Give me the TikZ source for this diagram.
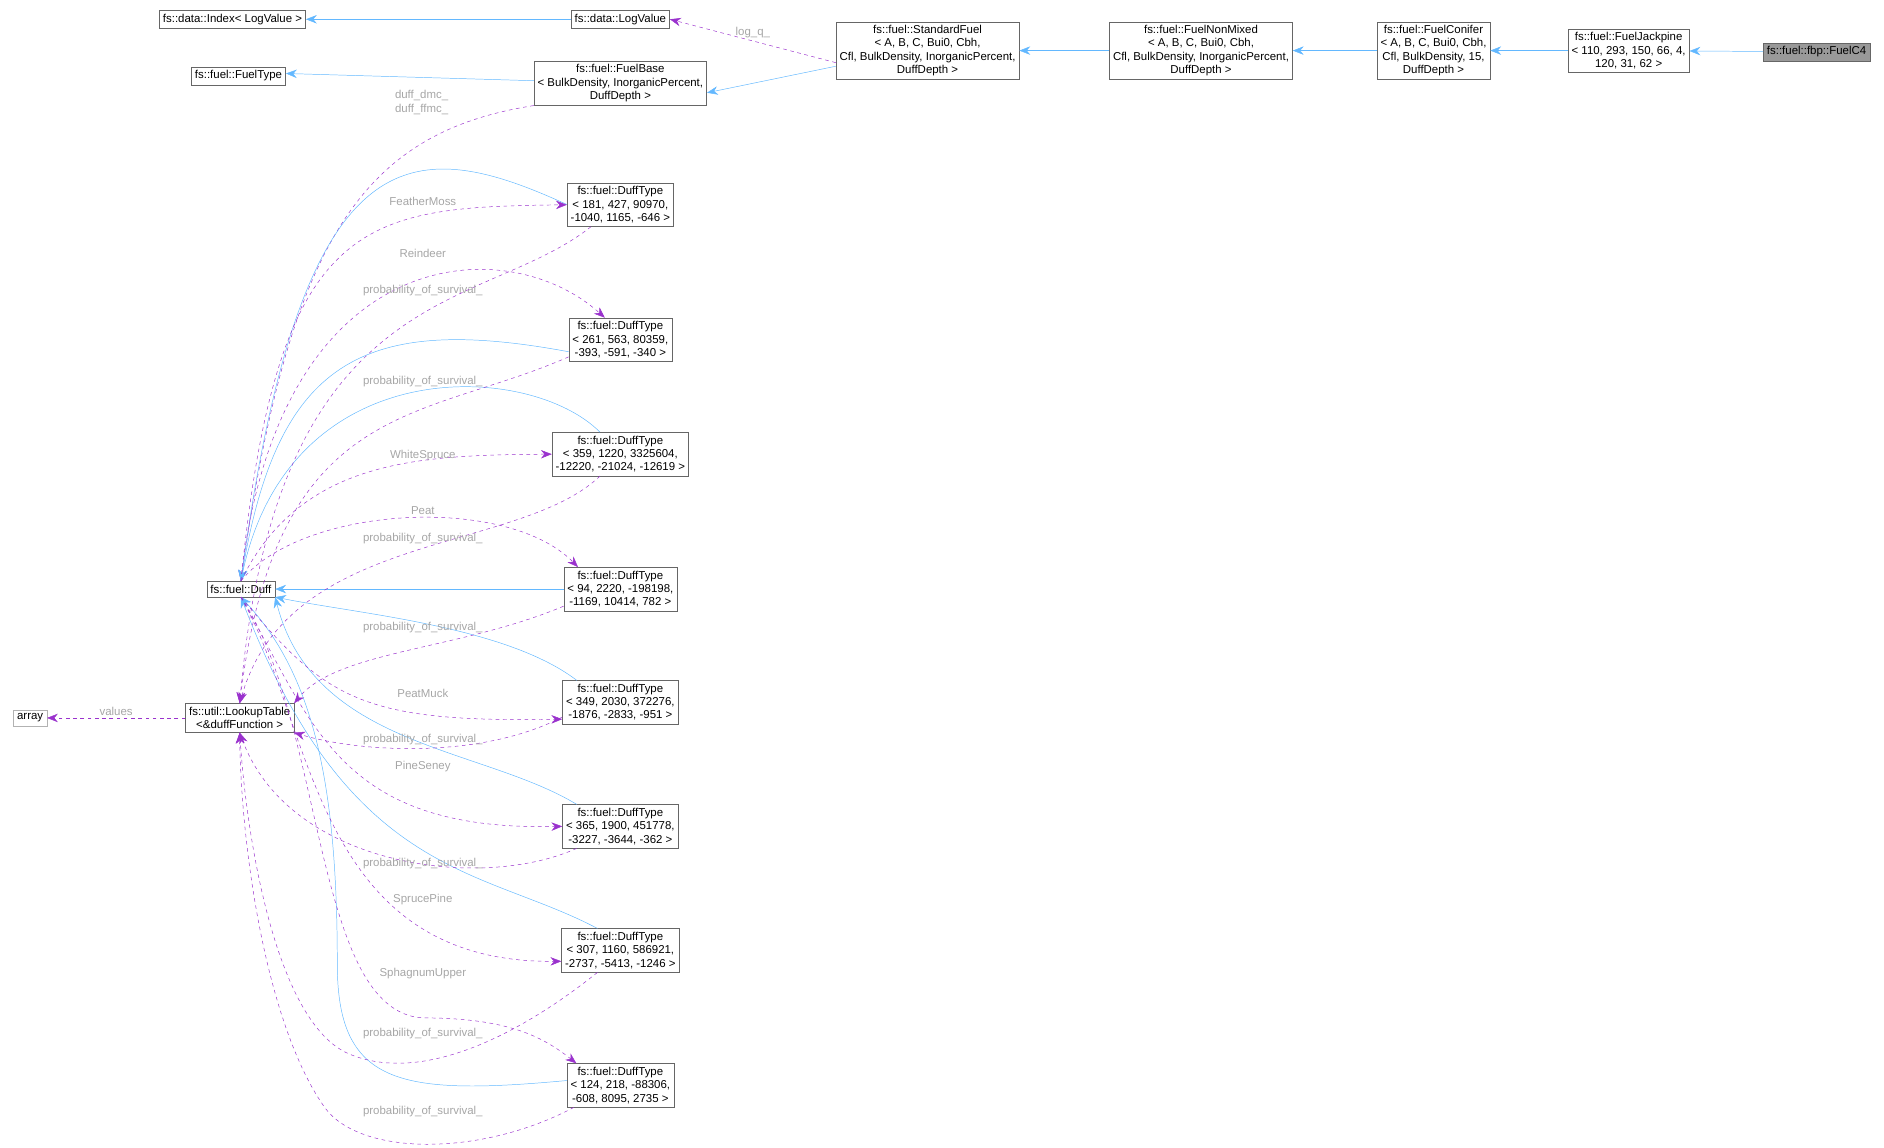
\documentclass[tikz,border=0pt]{standalone}
\usepackage{fontspec}
\setmainfont{Liberation Sans}
\usetikzlibrary{arrows.meta,positioning}
\definecolor{inhblue}{HTML}{63B8FF}
\definecolor{deppurple}{HTML}{9A32CD}
\definecolor{boxline}{HTML}{666666}
\tikzset{
  cls/.style={draw=boxline,fill=white,align=center,inner sep=3pt,font=\fontsize{9.5}{11}\selectfont},
  inh/.style={draw=inhblue,-{Stealth[length=9pt,width=7pt]}},
  dep/.style={draw=deppurple,dashed,-{Stealth[length=9pt,width=7pt]}},
  lbl/.style={text=gray!70,font=\fontsize{9.5}{11}\selectfont}
}
\begin{document}
\begin{tikzpicture}[x=1pt,y=-1pt]
  \useasboundingbox (0,0) rectangle (1564,953);
  % top row
  \node[cls] (idx) at (193,16) {fs::data::Index< LogValue >};
  \node[cls] (lv) at (515,16) {fs::data::LogValue};
  \node[cls] (ft) at (198,63) {fs::fuel::FuelType};
  \node[cls] (fb) at (515,69) {fs::fuel::FuelBase\\< BulkDensity, InorganicPercent,\\DuffDepth >};
  \node[cls] (sf) at (770,42) {fs::fuel::StandardFuel\\< A, B, C, Bui0, Cbh,\\Cfl, BulkDensity, InorganicPercent,\\DuffDepth >};
  \node[cls] (nm) at (997,42) {fs::fuel::FuelNonMixed\\< A, B, C, Bui0, Cbh,\\Cfl, BulkDensity, InorganicPercent,\\DuffDepth >};
  \node[cls] (fc) at (1190,42) {fs::fuel::FuelConifer\\< A, B, C, Bui0, Cbh,\\Cfl, BulkDensity, 15,\\DuffDepth >};
  \node[cls] (fj) at (1352,42) {fs::fuel::FuelJackpine\\< 110, 293, 150, 66, 4,\\120, 31, 62 >};
  \node[cls,fill=gray!80] (c4) at (1508,43) {fs::fuel::fbp::FuelC4};
  % duff and lookup
  \node[cls] (duff) at (200,489) {fs::fuel::Duff};
  \node[cls] (lut) at (199,596) {fs::util::LookupTable\\<\&duffFunction >};
  \node[cls,draw=gray!60] (arr) at (25,596) {array};
  % duff types
  \node[cls] (dt1) at (515,170) {fs::fuel::DuffType\\< 181, 427, 90970,\\-1040, 1165, -646 >};
  \node[cls] (dt2) at (515,282) {fs::fuel::DuffType\\< 261, 563, 80359,\\-393, -591, -340 >};
  \node[cls] (dt3) at (515,377) {fs::fuel::DuffType\\< 359, 1220, 3325604,\\-12220, -21024, -12619 >};
  \node[cls] (dt4) at (515,489) {fs::fuel::DuffType\\< 94, 2220, -198198,\\-1169, 10414, 782 >};
  \node[cls] (dt5) at (515,583) {fs::fuel::DuffType\\< 349, 2030, 372276,\\-1876, -2833, -951 >};
  \node[cls] (dt6) at (515,686) {fs::fuel::DuffType\\< 365, 1900, 451778,\\-3227, -3644, -362 >};
  \node[cls] (dt7) at (515,789) {fs::fuel::DuffType\\< 307, 1160, 586921,\\-2737, -5413, -1246 >};
  \node[cls] (dt8) at (515,901) {fs::fuel::DuffType\\< 124, 218, -88306,\\-608, 8095, 2735 >};

  % inheritance
  \draw[inh] (c4) -- (fj);
  \draw[inh] (fj) -- (fc);
  \draw[inh] (fc) -- (nm);
  \draw[inh] (nm) -- (sf);
  \draw[inh] (sf.west |- fb.east) ++(0,-14) -- ([yshift=-8pt]fb.east);
  \draw[inh] (fb.west) ++(0,-2) -- ([yshift=2pt]ft.east);
  \draw[inh] (lv) -- (idx);
  \draw[dep] ([yshift=-10pt]sf.west) -- (lv.east) node[lbl,pos=0.5,above=-1pt] {log\_q\_};
  \draw[dep] (fb.south west) .. controls (300,110) and (240,200) .. (duff.north);
  \node[lbl,align=center] (lb0) at (350,85) {duff\_dmc\_\\duff\_ffmc\_};
  \draw[dep] (lut.west) -- (arr.east) node[lbl,pos=0.5,above=-2pt] {values};

  % duff types to duff
  \draw[inh] ([yshift=-18pt]dt1.north west) .. controls (340,110) and (250,110) .. (duff.north);
  \draw[inh] ([yshift=-10pt]dt2.west) .. controls (300,260) and (230,300) .. (duff.north);
  \draw[inh] ([xshift=40pt]dt3.north west) .. controls (440,300) and (240,290) .. (duff.north);
  \draw[inh] (dt4.west) -- (duff.east);
  \draw[inh] ([xshift=12pt]dt5.north west) .. controls (420,520) and (300,510) .. (duff.south east);
  \draw[inh] ([xshift=12pt]dt6.north west) .. controls (400,620) and (260,620) .. (duff.south east);
  \draw[inh] ([xshift=30pt]dt7.north west) .. controls (400,720) and (290,730) .. (duff.south);
  \draw[inh] ([yshift=4pt]dt8.west) .. controls (330,910) and (280,900) .. (280,800) .. controls (280,650) and (260,560) .. (duff.south);

  % duff members
  \draw[dep] (duff.north) .. controls (230,180) and (300,172) .. (dt1.west);
  \draw[dep] (duff.north) .. controls (230,200) and (420,190) .. ([xshift=30pt]dt2.north west);
  \draw[dep] (duff.north) .. controls (250,380) and (350,378) .. (dt3.west);
  \draw[dep] (duff.north) .. controls (250,420) and (420,410) .. ([xshift=12pt]dt4.north west);
  \draw[dep] (duff.south) .. controls (270,580) and (300,600) .. ([yshift=-14pt]dt5.west);
  \draw[dep] (duff.south) .. controls (260,600) and (280,690) .. (dt6.west);
  \draw[dep] (duff.south) .. controls (260,600) and (260,800) .. ([yshift=-9pt]dt7.west);
  \draw[dep] (duff.south) .. controls (270,600) and (260,840) .. (351,845) .. controls (420,845) and (450,860) .. ([xshift=8pt]dt8.north west);
  \foreach \nm/\yy in {FeatherMoss/167,Reindeer/210,WhiteSpruce/378,Peat/424,PeatMuck/576,PineSeney/636,SprucePine/747,SphagnumUpper/808}
    \node[lbl] (l\nm) at (351,\yy) {\nm};

  % survival tables
  \draw[dep] ([xshift=20pt]dt1.south west) .. controls (400,260) and (230,230) .. (lut.north);
  \draw[dep] ([yshift=4pt]dt2.south west) .. controls (350,350) and (230,330) .. (lut.north);
  \draw[dep] ([xshift=40pt]dt3.south west) .. controls (430,460) and (240,440) .. (lut.north);
  \draw[dep] ([yshift=4pt]dt4.south west) .. controls (380,540) and (280,540) .. (lut.north east);
  \draw[dep] ([yshift=6pt]dt5.south west) .. controls (400,630) and (300,625) .. (lut.south east);
  \draw[dep] ([xshift=12pt]dt6.south west) .. controls (400,740) and (240,720) .. (lut.south);
  \draw[dep] ([xshift=30pt]dt7.south west) .. controls (430,860) and (350,900) .. (290,875) .. controls (230,850) and (205,700) .. (lut.south);
  \draw[dep] ([xshift=6pt]dt8.south west) .. controls (400,960) and (300,960) .. (270,920) .. controls (220,850) and (200,700) .. (lut.south);
  \foreach \yy in {241,317,447,521,614,717,858,923}
    \node[lbl] (p\yy) at (351,\yy) {probability\_of\_survival\_};
\end{tikzpicture}
\end{document}
